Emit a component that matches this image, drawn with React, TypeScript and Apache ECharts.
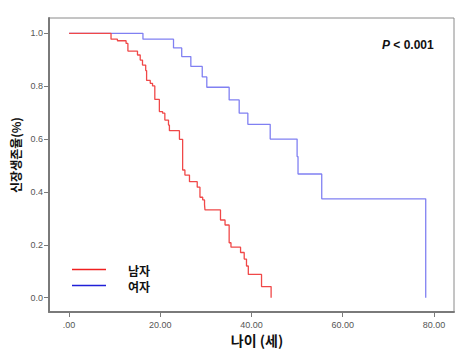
import React, { useEffect, useRef } from "react";
import * as echarts from "echarts";

// Kaplan-Meier steps: [age, survival]
const maleAges = [0, 9.2, 10.6, 12.5, 12.9, 15.0, 15.6, 16.1, 16.8, 17.0, 17.8, 18.3, 18.8, 19.8, 20.5, 21.0, 21.8, 22.0, 24.2, 24.9, 25.4, 26.4, 28.1, 28.7, 29.3, 29.7, 29.8, 33.2, 34.2, 35.1, 35.5, 37.6, 38.4, 38.9, 39.3, 42.2, 44.3];
const maleSurv = [1.0, 0.978, 0.972, 0.962, 0.933, 0.918, 0.899, 0.88, 0.859, 0.822, 0.811, 0.801, 0.75, 0.704, 0.698, 0.672, 0.653, 0.632, 0.599, 0.483, 0.464, 0.439, 0.418, 0.38, 0.37, 0.352, 0.332, 0.294, 0.275, 0.208, 0.191, 0.171, 0.146, 0.12, 0.088, 0.042, 0.0];
const femaleAges = [0, 16.2, 22.9, 24.7, 26.7, 29.2, 30.2, 35.1, 37.3, 39.2, 44.1, 50.0, 50.2, 55.4, 78.2];
const femaleSurv = [1.0, 0.978, 0.945, 0.912, 0.875, 0.835, 0.796, 0.748, 0.698, 0.656, 0.6, 0.534, 0.468, 0.374, 0.0];

const xTicks = [0, 20, 40, 60, 80];
const yTicks = [0, 0.2, 0.4, 0.6, 0.8, 1.0];
const seriesNames = ["남자", "여자"];

const NUM_FONT = "Arial, 'Liberation Sans', sans-serif";
const KR_FONT = "'Noto Sans CJK KR', 'Noto Sans', sans-serif";

export default function App() {
  const ref = useRef<HTMLDivElement>(null);
  useEffect(() => {
    document.body.style.margin = "0";
    const chart = echarts.init(ref.current!, null, { renderer: "svg" });
    const male = maleAges.map((a, i) => [a, maleSurv[i]]);
    const female = femaleAges.map((a, i) => [a, femaleSurv[i]]);
    chart.setOption({
      animation: false,
      backgroundColor: "#ffffff",
      grid: {
        left: 49,
        top: 18,
        width: 405,
        height: 294,
        show: true,
        borderColor: "#8a8a8a",
        borderWidth: 1,
        backgroundColor: "transparent",
      },
      xAxis: {
        type: "value",
        min: -4.4,
        max: 84.4,
        splitLine: { show: false },
        axisLine: { show: true, onZero: false, lineStyle: { color: "#7a7a7a", width: 2 } },
        axisTick: {
          show: true,
          length: 5,
          lineStyle: { color: "#7a7a7a", width: 1 },
          customValues: xTicks,
        },
        axisLabel: {
          customValues: xTicks,
          fontSize: 9,
          color: "#555",
          fontFamily: NUM_FONT,
          margin: 8,
          formatter: (v: number) => (v === 0 ? ".00" : v.toFixed(2)),
        },
      },
      yAxis: {
        type: "value",
        min: -0.054,
        max: 1.058,
        splitLine: { show: false },
        axisLine: { show: true, onZero: false, lineStyle: { color: "#7a7a7a", width: 2 } },
        axisTick: {
          show: true,
          length: 5,
          lineStyle: { color: "#7a7a7a", width: 1 },
          customValues: yTicks,
        },
        axisLabel: {
          customValues: yTicks,
          fontSize: 9,
          color: "#555",
          fontFamily: NUM_FONT,
          margin: 6,
          formatter: (v: number) => v.toFixed(1),
        },
      },
      series: [
        {
          name: seriesNames[0],
          type: "line",
          step: "end",
          data: male,
          symbol: "none",
          lineStyle: { color: "#f04848", width: 1.3 },
          z: 3,
        },
        {
          name: seriesNames[1],
          type: "line",
          step: "end",
          data: female,
          symbol: "none",
          lineStyle: { color: "#8080f2", width: 1.3 },
          z: 2,
        },
      ],
      graphic: [
        {
          type: "line",
          shape: { x1: 72, y1: 269.5, x2: 106, y2: 269.5 },
          style: { stroke: "#f02020", lineWidth: 1.5 },
        },
        {
          type: "line",
          shape: { x1: 72, y1: 285.5, x2: 106, y2: 285.5 },
          style: { stroke: "#2020d8", lineWidth: 1.5 },
        },
        {
          type: "text",
          x: 128,
          y: 270,
          style: {
            text: seriesNames[0],
            font: `bold 12px ${KR_FONT}`,
            fill: "#111",
            textVerticalAlign: "middle",
          },
        },
        {
          type: "text",
          x: 128,
          y: 286,
          style: {
            text: seriesNames[1],
            font: `bold 12px ${KR_FONT}`,
            fill: "#111",
            textVerticalAlign: "middle",
          },
        },
        {
          type: "text",
          x: 382,
          y: 45,
          style: {
            text: "{p|P} {n|< 0.001}",
            textVerticalAlign: "middle",
            rich: {
              p: { font: `italic bold 12px ${NUM_FONT}`, fill: "#111" },
              n: { font: `bold 12px ${NUM_FONT}`, fill: "#111" },
            },
          },
        },
        {
          type: "text",
          x: 257,
          y: 340,
          style: {
            text: "나이 (세)",
            font: `bold 14px ${KR_FONT}`,
            fill: "#111",
            textAlign: "center",
            textVerticalAlign: "middle",
          },
        },
        {
          type: "text",
          x: 15,
          y: 155,
          rotation: Math.PI / 2,
          style: {
            text: "신장생존율(%)",
            font: `bold 12px ${KR_FONT}`,
            fill: "#111",
            textAlign: "center",
            textVerticalAlign: "middle",
          },
        },
      ],
    });
    return () => chart.dispose();
  }, []);
  return <div ref={ref} style={{ width: 462, height: 351 }} />;
}
